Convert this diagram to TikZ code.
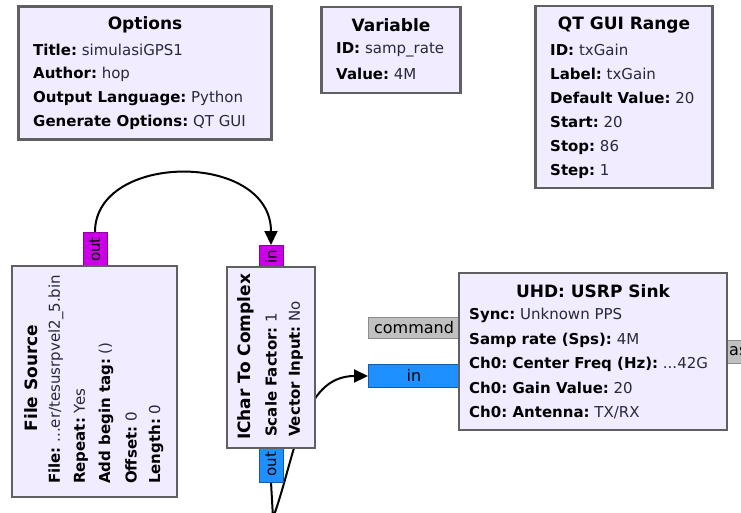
\documentclass[tikz,border=0pt]{standalone}
\usepackage{fontspec}
\setmainfont{DejaVu Sans}
\usetikzlibrary{arrows.meta}

\definecolor{blockfill}{RGB}{241,236,255}
\definecolor{blockline}{RGB}{96,96,96}
\definecolor{bytecol}{RGB}{204,0,230}
\definecolor{bytedark}{RGB}{140,0,160}
\definecolor{cplxcol}{RGB}{30,144,255}
\definecolor{cplxdark}{RGB}{20,90,170}
\definecolor{msgcol}{RGB}{192,192,192}
\definecolor{msgdark}{RGB}{140,140,140}
\definecolor{valcol}{RGB}{40,40,60}

\newcommand{\prm}[2]{\textbf{#1:} \textcolor{valcol}{#2}}
\frenchspacing

\begin{document}
\begin{tikzpicture}[
  x=1pt, y=-1pt,
  every node/.style={font=\fontsize{15}{17}\selectfont, inner sep=0pt},
  block/.style={draw=blockline, fill=blockfill, line width=2.6pt},
  title/.style={font=\fontsize{17}{19}\selectfont\bfseries},
  line/.style={anchor=west},
  vline/.style={anchor=west, rotate=90},
  port/.style={line width=0.8pt, font=\fontsize{16}{18}\selectfont},
  byteport/.style={port, draw=bytedark, fill=bytecol},
  cplxport/.style={port, draw=cplxdark, fill=cplxcol},
  msgport/.style={port, draw=msgdark, fill=msgcol},
  flow/.style={black, line width=2pt, -{Triangle[length=14pt, width=13pt]}},
]

\useasboundingbox (0,0) rectangle (741,512);
\clip (0,0) rectangle (741,512);

% ================================================================
% Connections (drawn first, the blocks cover them)
% ================================================================
\coordinate (FSout) at (95,232);
\coordinate (ICin)  at (271,245);
\coordinate (ICout) at (271,482);
\coordinate (SKin)  at (368,376);
\coordinate (turn)  at (273,518);

\draw[flow] (FSout) .. controls +(0,-80) and +(0,-94) .. (ICin);
\draw[flow] (ICout) -- (turn) to[out=70, in=180] (SKin);

% ================================================================
% Variable blocks (top row)
% ================================================================
\node[block, minimum width=253, minimum height=133] (options) at (145,73) {};
\node[title] (optT) at (145,25) {Options};
\node[line] (opt1) at (33,50)  {\prm{Title}{simulasiGPS1}};
\node[line] (opt2) at (33,74)  {\prm{Author}{hop}};
\node[line] (opt3) at (33,98)  {\prm{Output Language}{Python}};
\node[line] (opt4) at (33,122) {\prm{Generate Options}{QT GUI}};

\node[block, minimum width=139, minimum height=86] (variable) at (391,50) {};
\node[title] (varT) at (391,25) {Variable};
\node[line] (var1) at (336,50) {\prm{ID}{samp\_rate}};
\node[line] (var2) at (336,74) {\prm{Value}{4M}};

\node[block, minimum width=177, minimum height=182] (range) at (624,97) {};
\node[title] (rngT) at (624,25) {QT GUI Range};
\node[line] (rng1) at (550,50)  {\prm{ID}{txGain}};
\node[line] (rng2) at (550,74)  {\prm{Label}{txGain}};
\node[line] (rng3) at (550,98)  {\prm{Default Value}{20}};
\node[line] (rng4) at (550,122) {\prm{Start}{20}};
\node[line] (rng5) at (550,147) {\prm{Stop}{86}};
\node[line] (rng6) at (550,171) {\prm{Step}{1}};

% ================================================================
% File Source (rotated)
% ================================================================
\node[byteport, minimum width=24, minimum height=35] (fsport) at (95,249.5) {};
\node[rotate=90] at (fsport) {out};
\node[block, minimum width=165, minimum height=231] (filesrc) at (94.5,381.5) {};
\node[title, rotate=90] (fsT) at (31,378) {File Source};
\node[vline] (fs1) at (56,484)  {\prm{File}{...er/tesusrpvel2\_5.bin}};
\node[vline] (fs2) at (81,484)  {\prm{Repeat}{Yes}};
\node[vline] (fs3) at (106,484) {\prm{Add begin tag}{()}};
\node[vline] (fs4) at (131,484) {\prm{Offset}{0}};
\node[vline] (fs5) at (156,484) {\prm{Length}{0}};

% ================================================================
% IChar To Complex (rotated)
% ================================================================
\node[byteport, minimum width=24, minimum height=24] (icport) at (271,257) {};
\node[rotate=90] at (icport) {in};
\node[cplxport, minimum width=24, minimum height=36] (icoport) at (271,464) {};
\node[rotate=90] at (icoport) {out};
\node[block, minimum width=88, minimum height=181] (ichar) at (271,357.5) {};
\node[title, rotate=90] (icT) at (246,357) {IChar To Complex};
\node[vline] (ic1) at (271,437) {\prm{Scale Factor}{1}};
\node[vline] (ic2) at (296,437) {\prm{Vector Input}{No}};

% ================================================================
% UHD: USRP Sink
% ================================================================
\node[msgport, minimum width=92, minimum height=21] (cmdport) at (414,327.5) {command};
\node[cplxport, minimum width=92, minimum height=23] (inport) at (414,375.5) {in};
\node[msgport, minimum width=60, minimum height=23, anchor=west] (asport) at (727,351.5) {};
\node[line, font=\fontsize{16}{18}\selectfont] (asT) at (729,351) {as};
\node[block, minimum width=268, minimum height=157] (sink) at (593,351.5) {};
\node[title] (skT) at (593,291) {UHD: USRP Sink};
\node[line] (sk1) at (469,315) {\prm{Sync}{Unknown PPS}};
\node[line] (sk2) at (469,340) {\prm{Samp rate (Sps)}{4M}};
\node[line] (sk3) at (469,364) {\prm{Ch0: Center Freq (Hz)}{...42G}};
\node[line] (sk4) at (469,388) {\prm{Ch0: Gain Value}{20}};
\node[line] (sk5) at (469,412) {\prm{Ch0: Antenna}{TX/RX}};

\end{tikzpicture}
\end{document}
